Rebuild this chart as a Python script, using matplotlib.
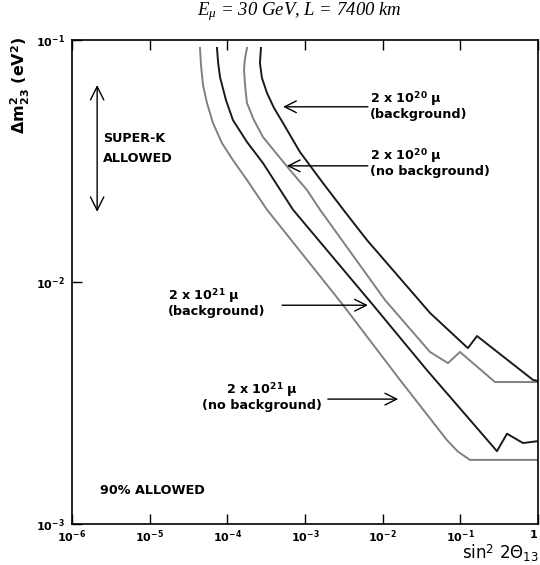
#!/usr/bin/env python3
"""
Sensitivity contours: E_mu = 30 GeV, L = 7400 km
"""

import matplotlib
matplotlib.use('Agg')
import matplotlib.pyplot as plt

plt.rcParams['font.family'] = ['DejaVu Sans']
plt.rcParams['mathtext.fontset'] = 'custom'
plt.rcParams['mathtext.rm'] = 'DejaVu Sans'
plt.rcParams['mathtext.it'] = 'Liberation Serif:italic'
plt.rcParams['mathtext.bf'] = 'DejaVu Sans:bold'

# 2 x 10^21 mu, no background (gray)
x_21_nobg = [4.45e-5, 4.58e-5, 4.86e-5, 5.47e-5, 6.53e-5, 8.53e-5, 1.18e-4, 1.79e-4, 3.24e-4,
             3.08e-3, 0.0167, 0.0673, 0.0933, 0.133, 1.0]
y_21_nobg = [0.0927, 0.0788, 0.0652, 0.0549, 0.0454, 0.0375, 0.0319, 0.0264, 0.0199,
             0.00804, 0.00394, 0.00222, 0.00199, 0.00184, 0.00184]

# 2 x 10^21 mu, background (dark)
x_21_bg = [7.36e-5, 7.6e-5, 8.05e-5, 9.6e-5, 1.18e-4, 1.79e-4, 2.88e-4, 7.0e-4, 7.5e-3,
           0.0372, 0.296, 0.399, 0.641, 1.0]
y_21_bg = [0.0927, 0.0810, 0.0703, 0.0565, 0.0467, 0.0379, 0.0310, 0.0199, 0.00804,
           0.00432, 0.00200, 0.00236, 0.00216, 0.00220]

# 2 x 10^20 mu, no background (gray)
x_20_nobg = [1.79e-4, 1.68e-4, 1.64e-4, 1.70e-4, 1.79e-4, 2.20e-4, 2.88e-4, 6.41e-4, 1.06e-3,
             1.56e-3, 0.0107, 0.0407, 0.0693, 0.0989, 0.279, 1.0]
y_20_nobg = [0.0927, 0.0830, 0.0752, 0.0640, 0.0549, 0.0467, 0.0397, 0.0290, 0.0240,
             0.0199, 0.00843, 0.00514, 0.00462, 0.00514, 0.00386, 0.00386]

# 2 x 10^20 mu, background (dark)
x_20_bg = [2.71e-4, 2.63e-4, 2.79e-4, 3.24e-4, 3.99e-4, 5.21e-4, 8.63e-4, 1.71e-3, 3.27e-3,
           6.28e-3, 0.0407, 0.125, 0.164, 0.861, 1.0]
y_20_bg = [0.0927, 0.0803, 0.0697, 0.0604, 0.0524, 0.0454, 0.0344, 0.0256, 0.0195,
           0.0149, 0.00745, 0.00533, 0.00598, 0.00394, 0.00390]

x_ticks = [1e-6, 1e-5, 1e-4, 1e-3, 1e-2, 1e-1, 1]
x_ticklabels = [r'$\mathbf{10^{-6}}$', r'$\mathbf{10^{-5}}$', r'$\mathbf{10^{-4}}$',
                r'$\mathbf{10^{-3}}$', r'$\mathbf{10^{-2}}$', r'$\mathbf{10^{-1}}$', r'$\mathbf{1}$']
y_ticks = [1e-3, 1e-2, 1e-1]
y_ticklabels = [r'$\mathbf{10^{-3}}$', r'$\mathbf{10^{-2}}$', r'$\mathbf{10^{-1}}$']

GRAY = '#808080'
DARK = '#1a1a1a'


def main():
    fig = plt.figure(figsize=(5.4, 5.65), dpi=100)
    ax = fig.add_axes([0.1333, 0.0726, 0.863, 0.8566])

    ax.plot(x_21_nobg, y_21_nobg, color=GRAY, lw=1.4)
    ax.plot(x_21_bg, y_21_bg, color=DARK, lw=1.4)
    ax.plot(x_20_nobg, y_20_nobg, color=GRAY, lw=1.4)
    ax.plot(x_20_bg, y_20_bg, color=DARK, lw=1.4)

    ax.set_xscale('log')
    ax.set_yscale('log')
    ax.set_xlim(1e-6, 1)
    ax.set_ylim(1e-3, 1e-1)
    ax.set_xticks(x_ticks)
    ax.set_xticklabels(x_ticklabels)
    ax.set_yticks(y_ticks)
    ax.set_yticklabels(y_ticklabels)
    ax.minorticks_off()
    ax.tick_params(direction='in', length=7, width=1, labelsize=8, top=True, pad=3)
    ax.tick_params(axis='y', pad=5)
    ax.get_xticklabels()[-1].set_horizontalalignment('right')
    for s in ax.spines.values():
        s.set_linewidth(1.2)

    # title and axis labels
    fig.text(0.554, 0.979, r'$E_\mu$ = 30 GeV, L = 7400 km', family='Liberation Serif',
             style='italic', fontsize=13.5, ha='center', va='center')
    fig.text(0.037, 0.85, r'$\mathbf{\Delta m^2_{23}}$ (eV$^{\mathbf{2}}$)', rotation=90,
             fontsize=11.5, fontweight='bold', ha='center', va='center')
    fig.text(0.998, 0.021, r'sin$^{\mathrm{2}}$ 2$\mathrm{\Theta}_{\mathrm{13}}$',
             fontsize=12, ha='right', va='center')

    arrow = dict(arrowstyle='->,head_length=0.7,head_width=0.35', lw=1.0, color='black',
                 mutation_scale=12, shrinkA=0, shrinkB=0)
    tf = dict(fontsize=9.2, fontweight='bold', va='center', transform=ax.transAxes)

    ax.text(0.639, 0.866, '2 x 10$^{\\mathbf{20}}$ \u03bc\n(background)', ha='left',
            linespacing=1.0, **tf)
    ax.annotate('', xy=(0.453, 0.862), xytext=(0.635, 0.862),
                xycoords='axes fraction', arrowprops=arrow)

    ax.text(0.639, 0.748, '2 x 10$^{\\mathbf{20}}$ \u03bc\n(no background)', ha='left',
            linespacing=1.0, **tf)
    ax.annotate('', xy=(0.461, 0.740), xytext=(0.635, 0.740),
                xycoords='axes fraction', arrowprops=arrow)

    ax.text(0.206, 0.459, '2 x 10$^{\\mathbf{21}}$ \u03bc\n(background)', ha='left',
            linespacing=1.0, **tf)
    ax.annotate('', xy=(0.635, 0.452), xytext=(0.451, 0.452),
                xycoords='axes fraction', arrowprops=arrow)

    ax.text(0.408, 0.264, '2 x 10$^{\\mathbf{21}}$ \u03bc\n(no background)', ha='center',
            multialignment='center', linespacing=1.0, **tf)
    ax.annotate('', xy=(0.700, 0.258), xytext=(0.549, 0.258),
                xycoords='axes fraction', arrowprops=arrow)

    # Super-K allowed band
    ax.annotate('', xy=(0.054, 0.907), xytext=(0.054, 0.645), xycoords='axes fraction',
                arrowprops=dict(arrowstyle='<->,head_length=0.8,head_width=0.4', lw=1.0,
                                color='black', mutation_scale=12, shrinkA=0, shrinkB=0))
    ax.text(0.067, 0.775, 'SUPER-K\nALLOWED', ha='left', linespacing=1.7, **tf)
    ax.text(0.06, 0.070, '90% ALLOWED', ha='left', **tf)

    plt.savefig('out.png', dpi=100, facecolor='white')
    plt.close()


if __name__ == '__main__':
    main()
